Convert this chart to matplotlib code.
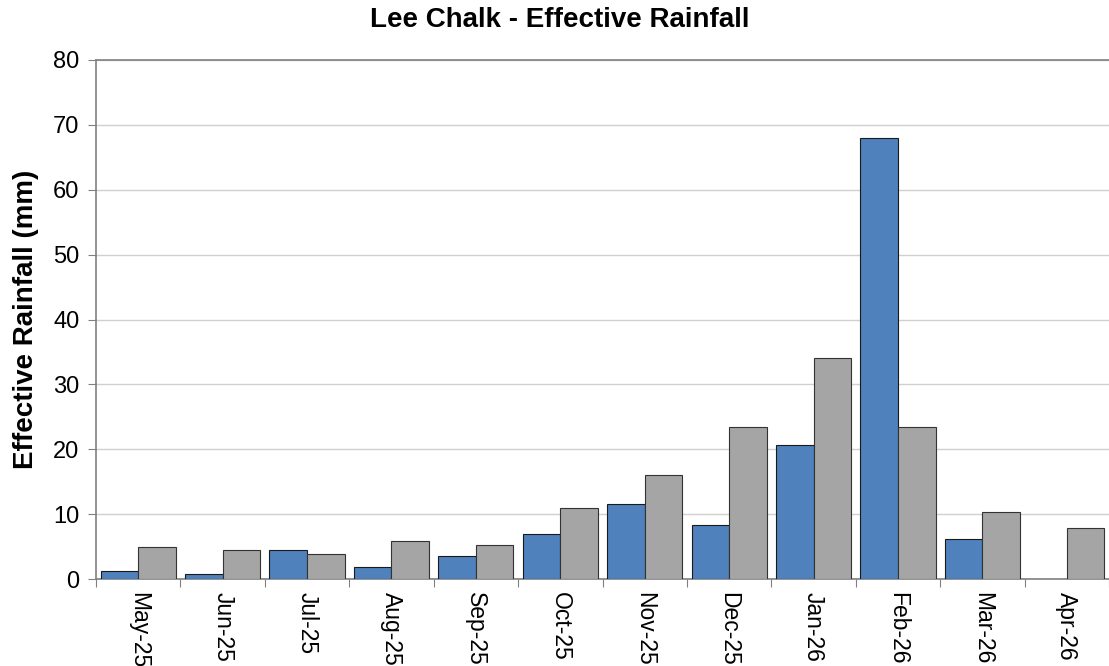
import numpy as np
from matplotlib import pyplot as plt

months = ["May-25", "Jun-25", "Jul-25", "Aug-25", "Sep-25", "Oct-25",
          "Nov-25", "Dec-25", "Jan-26", "Feb-26", "Mar-26", "Apr-26"]
blue_vals = [1.2, 0.7, 4.5, 1.9, 3.5, 7.0, 11.6, 8.3, 20.6, 67.9, 6.2, np.nan]
grey_vals = [4.9, 4.5, 3.9, 5.8, 5.2, 11.0, 16.1, 23.4, 34.1, 23.5, 10.4, 7.8]

plt.rcParams['font.family'] = ['Liberation Sans', 'DejaVu Sans']

fig = plt.figure(figsize=(11.09, 6.66), dpi=100)
ax = fig.add_axes([96 / 1109, 87 / 666, 1 - 96 / 1109, 519 / 666])

xs = np.arange(len(months))
w = 0.445
ax.bar(xs - w / 2, blue_vals, w, color='#4f81bd', edgecolor='#1a1a1a', linewidth=0.8, zorder=3)
ax.bar(xs + w / 2, grey_vals, w, color='#a5a5a5', edgecolor='#333333', linewidth=0.8, zorder=3)

ax.set_xlim(-0.5, len(months) - 0.5)
ax.set_ylim(0, 80)
ax.set_yticks(range(0, 81, 10))
ax.yaxis.grid(True, color='#d0d0d0', linewidth=1, zorder=0)

# boundary ticks without labels, labels centred on each month
ax.set_xticks(np.arange(len(months) + 1) - 0.5)
ax.set_xticklabels([])
ax.set_xticks(xs, minor=True)
ax.set_xticklabels(months, minor=True, rotation=270, fontsize=16.5)
ax.tick_params(axis='x', which='minor', length=0, pad=9)
ax.tick_params(axis='x', which='major', length=6, color='#808080')
ax.tick_params(axis='y', length=6, color='#808080', labelsize=17, pad=6)

for side in ['left', 'bottom', 'top']:
    ax.spines[side].set_color('#808080')
    ax.spines[side].set_linewidth(1.2)
ax.spines['right'].set_visible(False)

ax.set_ylabel("Effective Rainfall (mm)", fontsize=20, fontweight='bold', labelpad=10)
fig.suptitle("Lee Chalk - Effective Rainfall", fontsize=20, fontweight='bold', x=0.505, y=0.99)

fig.savefig("out.png", dpi=100)
